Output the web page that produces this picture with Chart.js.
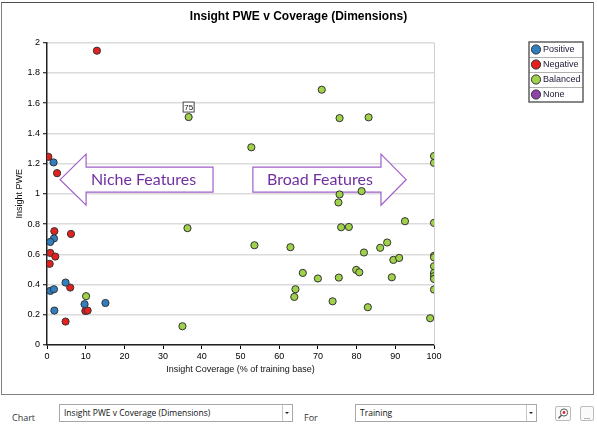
<!DOCTYPE html>
<html>
<head>
<meta charset="utf-8">
<script src="https://cdn.jsdelivr.net/npm/chart.js@4.4.1/dist/chart.umd.min.js"></script>
<style>
  body { margin: 0; background: #fff; width: 597px; height: 431px; overflow: hidden; position: relative; font-family: "Open Sans", "Liberation Sans", sans-serif; }
  #wrap { position: absolute; left: 0; top: 0; width: 597px; height: 395px; }
  #frame { position: absolute; left: 1px; top: 2px; width: 593px; height: 393px; box-sizing: border-box; border: 1px solid #808080; border-top-color: #505050; pointer-events: none; }
  .lbl { position: absolute; font-size: 9px; color: #333; top: 411px; }
  .combo { position: absolute; top: 404px; height: 18px; box-sizing: border-box; border: 1px solid #a8a8a8; background: #fff; font-size: 8.5px; color: #111; line-height: 16px; padding-left: 4px; }
  .combo .drop { position: absolute; right: 0; top: 0; width: 9px; height: 16px; border-left: 1px solid #c8c8c8; }
  .combo .drop:after { content: ""; position: absolute; left: 2px; top: 7px; border-left: 2px solid transparent; border-right: 2px solid transparent; border-top: 2px solid #222; }
  .btn { position: absolute; top: 406px; height: 15px; box-sizing: border-box; border: 1px solid #bcbcbc; border-radius: 2px; background: #fafafa; font-size: 8px; color: #333; text-align: center; line-height: 17px; }
</style>
</head>
<body>
<div id="wrap"><canvas id="pweChart"></canvas></div>
<div id="frame"></div>

<div class="lbl" style="left:12px">Chart</div>
<div class="combo" style="left:59px;width:234px">Insight PWE v Coverage (Dimensions)<div class="drop"></div></div>
<div class="lbl" style="left:304px">For</div>
<div class="combo" style="left:355px;width:182px">Training<div class="drop"></div></div>
<div class="btn" style="left:555px;width:16px">
  <svg width="14" height="13" viewBox="0 0 14 13" style="position:absolute;left:0;top:0">
    <circle cx="8" cy="5.5" r="3.6" fill="#fff" stroke="#555" stroke-width="1"/>
    <circle cx="8" cy="5.5" r="1.4" fill="#e02020"/>
    <line x1="5.4" y1="8.2" x2="2.5" y2="11.2" stroke="#555" stroke-width="1.4"/>
  </svg>
</div>
<div class="btn" style="left:580px;width:14px">...</div>

<script>
// 系列數據 (Insight Coverage %, Insight PWE)
const positiveX = [1.7, 1.8, 0.85, 4.8, 0.85, 1.8, 9.7, 15.1, 1.9];
const positiveY = [1.208, 0.705, 0.682, 0.413, 0.358, 0.369, 0.270, 0.278, 0.228];

const negativeX = [12.9, 0.35, 2.6, 1.9, 6.2, 0.85, 2.15, 0.7, 6.0, 9.9, 10.5, 4.8];
const negativeY = [1.947, 1.245, 1.137, 0.753, 0.735, 0.609, 0.585, 0.537, 0.380, 0.225, 0.228, 0.155];

const balancedX = [36.6, 52.8, 36.3, 10.1, 35.0, 53.6, 62.9, 64.2, 63.9, 71.0,
  75.6, 83.1, 100, 100, 75.6, 75.3, 81.3, 92.5, 100, 76.0,
  78.0, 87.9, 86.1, 81.9, 100, 100, 89.5, 91.0, 100, 100,
  100, 100, 66.1, 70.0, 75.4, 79.9, 80.7, 89.1, 73.8, 82.9,
  99.0, 100];
const balancedY = [1.508, 1.308, 0.773, 0.323, 0.124, 0.660, 0.647, 0.369, 0.318, 1.689,
  1.501, 1.506, 1.250, 1.205, 0.996, 0.943, 1.018, 0.819, 0.808, 0.779,
  0.781, 0.678, 0.643, 0.612, 0.590, 0.580, 0.563, 0.576, 0.521, 0.477,
  0.455, 0.437, 0.477, 0.440, 0.446, 0.497, 0.481, 0.448, 0.289, 0.250,
  0.177, 0.367];

const noneX = [];
const noneY = [];

const seriesNames = ['Positive', 'Negative', 'Balanced', 'None'];
const seriesColors = ['#2f7fc1', '#e3221f', '#9fd14a', '#8e44a8'];

const xTickLabels = ['0', '10', '20', '30', '40', '50', '60', '70', '80', '90', '100'];
const yTickLabels = ['0', '0.2', '0.4', '0.6', '0.8', '1', '1.2', '1.4', '1.6', '1.8', '2'];

// 標註：第一個 Balanced 點上的數值框
const calloutIndex = 0;
const calloutText = '75';

function toPoints(xs, ys) {
  return xs.map((x, i) => ({ x: x, y: ys[i] }));
}

// 箭頭標註（數據座標）
const arrowNotes = [
  { text: 'Niche Features', dir: -1, tip: 3.4, neck: 10.1, tail: 42.9 },
  { text: 'Broad Features', dir: 1, tip: 92.8, neck: 86.3, tail: 53.2 }
];

const overlayPlugin = {
  id: 'overlay',
  // 箭頭畫在數據點下面
  beforeDatasetsDraw(chart) {
    const ctx = chart.ctx;
    const xs = chart.scales.x, ys = chart.scales.y;
    const area = chart.chartArea;

    ctx.save();
    // 右邊框
    ctx.strokeStyle = '#d0d0d0';
    ctx.lineWidth = 1;
    ctx.beginPath();
    ctx.moveTo(area.right + 0.5, area.top);
    ctx.lineTo(area.right + 0.5, area.bottom);
    ctx.stroke();

    const yMid = ys.getPixelForValue(1.094);
    const yHeadT = ys.getPixelForValue(1.263), yHeadB = ys.getPixelForValue(0.925);
    const yBodyT = ys.getPixelForValue(1.177), yBodyB = ys.getPixelForValue(1.011);
    arrowNotes.forEach(a => {
      const tip = xs.getPixelForValue(a.tip);
      const neck = xs.getPixelForValue(a.neck);
      const tail = xs.getPixelForValue(a.tail);
      ctx.beginPath();
      ctx.moveTo(tip, yMid);
      ctx.lineTo(neck, yHeadT);
      ctx.lineTo(neck, yBodyT);
      ctx.lineTo(tail, yBodyT);
      ctx.lineTo(tail, yBodyB);
      ctx.lineTo(neck, yBodyB);
      ctx.lineTo(neck, yHeadB);
      ctx.closePath();
      ctx.fillStyle = '#fff';
      ctx.fill();
      ctx.strokeStyle = '#a05fc8';
      ctx.lineWidth = 1.2;
      ctx.stroke();
      ctx.fillStyle = '#7030a0';
      ctx.font = '16px Lato, "Open Sans", sans-serif';
      ctx.textAlign = 'center';
      ctx.textBaseline = 'middle';
      const cx = a.dir < 0 ? (neck + tail) / 2 - 6 : (neck + tail) / 2 + 3;
      ctx.fillText(a.text, cx, (yBodyT + yBodyB) / 2);
    });
    ctx.restore();
  },
  afterDatasetsDraw(chart) {
    const ctx = chart.ctx;
    ctx.save();

    // 數值框
    const pt = chart.getDatasetMeta(2).data[calloutIndex];
    if (pt) {
      const bw = 12, bh = 11;
      const bx = pt.x - bw / 2, by = pt.y - 4.5 - bh;
      ctx.fillStyle = '#fff';
      ctx.fillRect(bx, by, bw, bh);
      ctx.strokeStyle = '#444';
      ctx.lineWidth = 1;
      ctx.strokeRect(bx + 0.5, by + 0.5, bw - 1, bh - 1);
      ctx.fillStyle = '#111';
      ctx.font = '8px "Liberation Sans", Arial, sans-serif';
      ctx.textAlign = 'center';
      ctx.textBaseline = 'middle';
      ctx.fillText(calloutText, pt.x, by + bh / 2 + 0.5);
    }

    // 圖例
    const lx = 529, ly = 42, lw = 54, rowH = 15;
    ctx.fillStyle = '#fff';
    ctx.fillRect(lx, ly, lw, rowH * chart.data.datasets.length);
    chart.data.datasets.forEach((ds, i) => {
      const cy = ly + rowH * i + rowH / 2;
      if (i > 0) {
        ctx.strokeStyle = '#b0b0b0';
        ctx.lineWidth = 1;
        ctx.beginPath();
        ctx.moveTo(lx, ly + rowH * i + 0.5);
        ctx.lineTo(lx + lw, ly + rowH * i + 0.5);
        ctx.stroke();
      }
      ctx.beginPath();
      ctx.arc(lx + 7, cy, 4.6, 0, Math.PI * 2);
      ctx.fillStyle = ds.backgroundColor;
      ctx.fill();
      ctx.strokeStyle = '#333';
      ctx.lineWidth = 1;
      ctx.stroke();
      ctx.fillStyle = '#20203a';
      ctx.font = '9px "Liberation Sans", Arial, sans-serif';
      ctx.textAlign = 'left';
      ctx.textBaseline = 'middle';
      ctx.fillText(ds.label, lx + 14, cy + 0.5);
    });
    ctx.strokeStyle = '#555';
    ctx.lineWidth = 1.4;
    ctx.strokeRect(lx, ly, lw, rowH * chart.data.datasets.length);
    ctx.restore();
  }
};

document.addEventListener('DOMContentLoaded', function() {
  const ctx = document.getElementById('pweChart').getContext('2d');
  const allX = [positiveX, negativeX, balancedX, noneX];
  const allY = [positiveY, negativeY, balancedY, noneY];

  new Chart(ctx, {
    type: 'scatter',
    data: {
      datasets: seriesNames.map((name, i) => ({
        label: name,
        data: toPoints(allX[i], allY[i]),
        backgroundColor: seriesColors[i],
        borderColor: '#333',
        borderWidth: 1,
        pointRadius: 3.6
      }))
    },
    options: {
      responsive: true,
      maintainAspectRatio: false,
      animation: false,
      events: [],
      layout: { padding: 0 },
      scales: {
        x: {
          type: 'linear',
          min: 0,
          max: 100,
          afterFit: s => { s.height = 50; },
          ticks: {
            stepSize: 10,
            padding: 2,
            color: '#000',
            font: { family: '"Liberation Sans", Arial', size: 9 },
            callback: (v, i) => xTickLabels[i]
          },
          grid: { drawOnChartArea: false, color: '#000', tickLength: 4 },
          border: { color: '#222', width: 1.5, dash: [1, 1] },
          title: {
            display: true,
            text: 'Insight Coverage (% of training base)',
            color: '#111',
            font: { family: '"Liberation Sans", Arial', size: 9 },
            padding: { top: 2, bottom: 20 }
          }
        },
        y: {
          min: 0,
          max: 2,
          afterFit: s => { s.width = 47; },
          ticks: {
            stepSize: 0.2,
            padding: 3,
            color: '#000',
            font: { family: '"Liberation Sans", Arial', size: 9 },
            callback: (v, i) => yTickLabels[i]
          },
          grid: { color: '#b8b8b8', lineWidth: 1.5, tickColor: '#000', tickLength: 4, tickWidth: 1 },
          border: { color: '#222', width: 1.5, dash: [1, 1] },
          title: {
            display: true,
            text: 'Insight PWE',
            color: '#111',
            font: { family: '"Liberation Sans", Arial', size: 9 },
            padding: { top: 14, bottom: 2 }
          }
        },
        // 右側留白（圖例區）
        side: {
          type: 'linear',
          position: 'right',
          display: true,
          afterFit: s => { s.width = 163; },
          ticks: { display: false },
          grid: { display: false, drawOnChartArea: false },
          border: { display: false }
        }
      },
      plugins: {
        legend: { display: false },
        tooltip: { enabled: false },
        title: {
          display: true,
          text: 'Insight PWE v Coverage (Dimensions)',
          color: '#000',
          font: { family: '"Liberation Sans", Arial', size: 12, weight: 'bold' },
          padding: { top: 9, bottom: 19.3 }
        }
      }
    },
    plugins: [overlayPlugin]
  });
});
</script>
</body>
</html>
